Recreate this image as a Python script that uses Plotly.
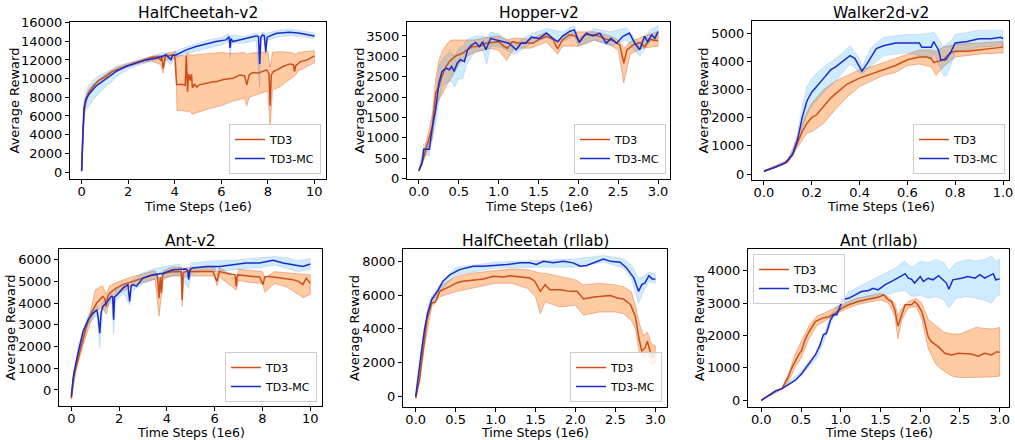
import plotly.graph_objects as go

# ---------------- data (Time Steps in 1e6, Average Reward) ----------------
# HalfCheetah-v2
hc_td3_x = [0, 0.05, 0.12, 0.2, 0.3, 0.5, 0.75, 1.0, 1.3, 1.6, 1.9, 2.2, 2.5, 2.8, 3.05, 3.3, 3.4, 3.45, 3.5, 3.6, 3.7, 3.9, 4.0, 4.08, 4.12, 4.3, 4.45, 4.5, 4.55, 4.6, 4.68, 4.72, 4.76, 4.85, 4.95, 5.05, 5.3, 5.6, 5.8, 6.1, 6.5, 6.8, 7.0, 7.1, 7.2, 7.35, 7.6, 7.8, 7.95, 8.05, 8.1, 8.15, 8.25, 8.4, 8.65, 8.95, 9.1, 9.15, 9.2, 9.4, 9.7, 10.0]
hc_td3_y = [100, 4000, 6800, 7800, 8500, 9200, 9850, 10200, 10750, 11050, 11350, 11600, 11830, 12050, 12300, 12350, 11900, 12400, 11100, 12400, 12450, 12500, 12550, 9400, 9350, 9400, 9300, 12500, 8600, 10500, 9800, 10500, 9000, 9400, 9100, 9340, 9500, 9650, 9700, 9900, 10050, 10400, 10300, 9340, 10400, 10650, 10600, 10760, 10940, 10500, 7090, 10400, 10800, 10940, 11300, 11580, 11500, 10760, 11400, 11830, 12010, 12440]
hc_td3_bx = [0, 0.05, 0.12, 0.2, 0.3, 0.5, 1.0, 1.5, 2.0, 2.5, 3.0, 3.4, 3.5, 3.6, 3.9, 4.05, 4.1, 4.3, 4.5, 4.55, 4.6, 4.75, 5.0, 5.5, 6.0, 6.5, 7.0, 7.1, 7.2, 7.5, 8.0, 8.1, 8.2, 8.5, 9.0, 9.2, 9.3, 9.6, 10.0]
hc_td3_lo = [50, 3500, 6400, 7400, 8200, 9000, 10000, 10800, 11300, 11650, 11900, 11500, 10600, 12000, 12200, 12000, 6600, 6600, 6500, 6400, 6600, 6200, 6400, 6800, 7100, 7600, 7900, 7100, 8000, 8300, 8700, 4600, 8800, 9100, 10000, 10400, 10800, 11200, 11700]
hc_td3_hi = [150, 4500, 7200, 8200, 8800, 9400, 10400, 11200, 11600, 12000, 12400, 12500, 12200, 12700, 12800, 12900, 12400, 12500, 12400, 12800, 12600, 12500, 12600, 12700, 12800, 12700, 12800, 12600, 12700, 12800, 12900, 11200, 12800, 12900, 12800, 12600, 12800, 12900, 13000]
hc_mc_x = [0, 0.03, 0.06, 0.1, 0.17, 0.3, 0.6, 0.9, 1.2, 1.47, 1.9, 2.33, 2.76, 3.2, 3.63, 3.84, 3.9, 4.06, 4.5, 4.92, 5.35, 5.78, 6.2, 6.33, 6.38, 6.42, 6.5, 6.8, 7.22, 7.5, 7.6, 7.65, 7.7, 7.77, 7.85, 7.91, 7.97, 8.03, 8.37, 8.95, 9.38, 9.7, 10.0]
hc_mc_y = [100, 3000, 5950, 6800, 7730, 8270, 9160, 9690, 10230, 10760, 11300, 11650, 12010, 12190, 12540, 12010, 12500, 12540, 13080, 13440, 13720, 13970, 14150, 14500, 13300, 14300, 13970, 14150, 14430, 14580, 14500, 11580, 14400, 14680, 14600, 12900, 14400, 14500, 14860, 14970, 14860, 14750, 14580]
hc_mc_bx = [0, 0.06, 0.17, 0.3, 0.6, 0.9, 1.2, 1.5, 2.0, 2.5, 3.0, 3.5, 3.84, 4.0, 4.5, 5.0, 5.5, 6.0, 6.33, 6.38, 6.45, 7.0, 7.5, 7.65, 7.72, 7.85, 7.91, 7.97, 8.5, 9.0, 9.5, 10.0]
hc_mc_lo = [50, 5000, 6600, 7000, 8100, 8900, 9500, 10200, 11000, 11500, 11900, 12200, 11500, 12200, 12700, 13000, 13300, 13600, 14000, 12200, 13800, 13800, 14100, 9100, 14100, 14200, 12600, 14100, 14500, 14600, 14500, 14300]
hc_mc_hi = [150, 6800, 8500, 9300, 10100, 10500, 10900, 11300, 11700, 12000, 12400, 12800, 12600, 12900, 13400, 13800, 14200, 14400, 14800, 14500, 14700, 14500, 14900, 14600, 14900, 15000, 14600, 14900, 15200, 15300, 15100, 14900]

# Hopper-v2
hop_td3_x = [0, 0.04, 0.1, 0.17, 0.21, 0.25, 0.29, 0.34, 0.38, 0.42, 0.46, 0.5, 0.55, 0.59, 0.63, 0.67, 0.76, 0.84, 0.92, 1.0, 1.07, 1.11, 1.17, 1.26, 1.34, 1.43, 1.51, 1.6, 1.68, 1.74, 1.8, 1.89, 1.97, 2.01, 2.08, 2.18, 2.27, 2.35, 2.43, 2.52, 2.57, 2.61, 2.69, 2.77, 2.83, 2.9, 2.96, 3.0]
hop_td3_y = [200, 390, 800, 1290, 2100, 2250, 2520, 2750, 2870, 2930, 3010, 3040, 3080, 3140, 3200, 3240, 3240, 3320, 3340, 3360, 3240, 3200, 3360, 3320, 3340, 3320, 3420, 3490, 3420, 3180, 3400, 3530, 3490, 3360, 3530, 3530, 3490, 3420, 3390, 3280, 2830, 3160, 3280, 3340, 3240, 3420, 3390, 3390]
hop_td3_bx = [0, 0.1, 0.17, 0.21, 0.25, 0.3, 0.35, 0.4, 0.5, 0.6, 0.7, 0.8, 0.9, 1.0, 1.1, 1.2, 1.4, 1.6, 1.74, 1.8, 2.0, 2.2, 2.4, 2.5, 2.57, 2.65, 2.8, 3.0]
hop_td3_lo = [180, 650, 1000, 1700, 1950, 2100, 2300, 2450, 2800, 3000, 3100, 3150, 3200, 3150, 2900, 3200, 3200, 3350, 3050, 3250, 3250, 3400, 3280, 3150, 2350, 3050, 3200, 3250]
hop_td3_hi = [220, 950, 1600, 2450, 2900, 3150, 3300, 3400, 3400, 3400, 3400, 3450, 3480, 3500, 3400, 3450, 3420, 3600, 3300, 3520, 3600, 3600, 3500, 3400, 3200, 3350, 3480, 3600]
hop_mc_x = [0, 0.04, 0.06, 0.13, 0.17, 0.21, 0.25, 0.29, 0.34, 0.38, 0.41, 0.44, 0.48, 0.52, 0.57, 0.61, 0.65, 0.71, 0.76, 0.8, 0.84, 0.9, 0.97, 1.05, 1.13, 1.22, 1.28, 1.34, 1.41, 1.51, 1.6, 1.68, 1.74, 1.8, 1.89, 1.95, 2.01, 2.1, 2.18, 2.27, 2.35, 2.41, 2.48, 2.56, 2.64, 2.71, 2.77, 2.83, 2.87, 2.92, 2.96, 3.0]
hop_mc_y = [190, 390, 720, 720, 1290, 1690, 2350, 2630, 2710, 2670, 2750, 2630, 2830, 2920, 2870, 3160, 3260, 3340, 3240, 3360, 3160, 3440, 3400, 3360, 3320, 3160, 3320, 3320, 3470, 3440, 3570, 3440, 3360, 3490, 3610, 3650, 3340, 3570, 3500, 3570, 3320, 3440, 3320, 3490, 3570, 3320, 3160, 3490, 3360, 3530, 3440, 3610]
hop_mc_bx = [0, 0.06, 0.13, 0.17, 0.21, 0.25, 0.3, 0.35, 0.4, 0.45, 0.5, 0.55, 0.6, 0.7, 0.8, 0.85, 0.9, 1.0, 1.2, 1.4, 1.6, 1.8, 1.95, 2.0, 2.2, 2.4, 2.6, 2.77, 2.9, 3.0]
hop_mc_lo = [170, 600, 550, 1000, 1300, 1900, 2300, 2350, 2400, 2250, 2450, 2450, 2800, 3100, 3150, 2800, 3250, 3250, 3050, 3300, 3450, 3350, 3500, 3250, 3400, 3250, 3400, 3000, 3350, 3450]
hop_mc_hi = [210, 850, 900, 1550, 2000, 2750, 2950, 3050, 3100, 3000, 3200, 3250, 3400, 3500, 3500, 3450, 3600, 3550, 3300, 3550, 3680, 3600, 3750, 3450, 3680, 3600, 3700, 3300, 3650, 3750]

# Walker2d-v2
wk_td3_x = [0, 0.05, 0.08, 0.1, 0.12, 0.14, 0.16, 0.18, 0.2, 0.22, 0.25, 0.28, 0.3, 0.35, 0.4, 0.45, 0.5, 0.55, 0.6, 0.65, 0.68, 0.7, 0.71, 0.73, 0.75, 0.78, 0.8, 0.85, 0.9, 0.95, 1.0]
wk_td3_y = [100, 250, 350, 450, 700, 1100, 1500, 1800, 2000, 2100, 2400, 2700, 2850, 3200, 3400, 3550, 3700, 3850, 4050, 4150, 4150, 4100, 3950, 4000, 4050, 4300, 4350, 4350, 4400, 4450, 4500]
wk_td3_bx = [0, 0.1, 0.14, 0.18, 0.2, 0.25, 0.3, 0.35, 0.4, 0.45, 0.5, 0.55, 0.6, 0.65, 0.7, 0.72, 0.75, 0.8, 0.9, 1.0]
wk_td3_lo = [80, 400, 950, 1450, 1500, 1800, 2300, 2750, 3100, 3300, 3500, 3600, 3850, 3900, 3800, 3500, 3800, 4150, 4250, 4300]
wk_td3_hi = [120, 500, 1300, 2200, 2500, 3000, 3300, 3500, 3700, 3800, 3950, 4100, 4250, 4400, 4400, 4350, 4500, 4600, 4650, 4700]
wk_mc_x = [0, 0.05, 0.09, 0.12, 0.14, 0.16, 0.18, 0.2, 0.25, 0.28, 0.3, 0.33, 0.36, 0.38, 0.4, 0.41, 0.43, 0.45, 0.47, 0.5, 0.55, 0.6, 0.65, 0.66, 0.7, 0.71, 0.73, 0.74, 0.76, 0.78, 0.8, 0.85, 0.9, 0.95, 0.99, 1.0]
wk_mc_y = [100, 250, 400, 700, 1200, 2000, 2600, 2900, 3400, 3700, 3800, 4000, 4200, 4100, 3800, 3650, 3900, 4200, 4450, 4550, 4650, 4650, 4650, 4500, 4500, 4700, 4400, 4050, 4050, 4300, 4650, 4700, 4800, 4800, 4850, 4800]
wk_mc_bx = [0, 0.09, 0.12, 0.14, 0.16, 0.18, 0.2, 0.25, 0.3, 0.33, 0.36, 0.4, 0.41, 0.45, 0.5, 0.6, 0.65, 0.7, 0.71, 0.73, 0.75, 0.76, 0.78, 0.8, 0.9, 1.0]
wk_mc_lo = [80, 370, 600, 1000, 1600, 2100, 2400, 2900, 3300, 3600, 3900, 3600, 3550, 3850, 4200, 4300, 4200, 4100, 4300, 3900, 3500, 3450, 3800, 4300, 4500, 4550]
wk_mc_hi = [120, 430, 800, 1400, 2400, 3100, 3400, 3800, 4100, 4300, 4550, 4100, 3800, 4500, 4850, 4950, 4950, 5000, 5050, 4800, 4500, 4600, 4700, 4950, 5100, 5100]

# Ant-v2
ant_td3_x = [0, 0.07, 0.2, 0.42, 0.63, 0.84, 1.05, 1.19, 1.32, 1.4, 1.46, 1.52, 1.6, 1.88, 2.16, 2.58, 3.0, 3.42, 3.6, 3.67, 3.72, 3.77, 3.82, 3.9, 4.25, 4.6, 4.64, 4.68, 4.81, 5.37, 5.93, 6.09, 6.2, 6.49, 6.85, 6.9, 6.95, 7.32, 7.88, 8.02, 8.1, 8.3, 8.86, 9.27, 9.5, 9.69, 9.83, 10.0]
ant_td3_y = [-380, 460, 1080, 2000, 2920, 3540, 4000, 4150, 4310, 4200, 3850, 4300, 4460, 4690, 4850, 5000, 5150, 5310, 5300, 4230, 5200, 4460, 5300, 5380, 5460, 5450, 4150, 5400, 5460, 5460, 5460, 5000, 5450, 5380, 5300, 4770, 5300, 5260, 5200, 4850, 5220, 5230, 5150, 5080, 5000, 4850, 5150, 4920]
ant_td3_bx = [0, 0.2, 0.5, 0.8, 1.0, 1.3, 1.46, 1.6, 2.0, 2.5, 3.0, 3.5, 3.67, 3.75, 3.85, 4.2, 4.6, 4.64, 4.7, 5.0, 6.0, 6.09, 6.2, 6.9, 7.0, 7.5, 8.0, 8.1, 8.5, 9.0, 9.5, 9.7, 10.0]
ant_td3_lo = [-450, 900, 2100, 3100, 3600, 3800, 3500, 4100, 4450, 4750, 4950, 5100, 3400, 4000, 5100, 5250, 5250, 3850, 5200, 5250, 5250, 4800, 5200, 4600, 5050, 4950, 4900, 4500, 4900, 4750, 4400, 4250, 4400]
ant_td3_hi = [-300, 1300, 2600, 3600, 4600, 4800, 4400, 4800, 5000, 5200, 5350, 5500, 5000, 4900, 5500, 5650, 5650, 4500, 5600, 5650, 5650, 5300, 5650, 5100, 5550, 5500, 5450, 5150, 5450, 5400, 5350, 5300, 5300]
ant_mc_x = [0, 0.1, 0.28, 0.49, 0.7, 0.91, 1.07, 1.13, 1.19, 1.25, 1.32, 1.46, 1.67, 1.73, 1.77, 1.81, 1.88, 2.16, 2.37, 2.44, 2.5, 2.58, 2.72, 3.0, 3.42, 3.84, 4.25, 4.81, 4.87, 4.91, 4.97, 5.09, 5.65, 6.21, 6.76, 7.32, 7.88, 8.44, 8.86, 9.27, 9.69, 10.0]
ant_mc_y = [-300, 770, 1690, 2690, 3230, 3540, 3690, 3300, 2620, 3600, 3850, 4000, 4310, 4300, 3230, 4300, 4340, 4690, 4850, 4080, 4800, 4850, 4770, 5150, 5310, 5380, 5540, 5570, 5500, 5080, 5550, 5620, 5690, 5690, 5770, 5850, 5850, 5970, 5850, 5770, 5690, 5800]
ant_mc_bx = [0, 0.28, 0.7, 1.07, 1.19, 1.3, 1.5, 1.7, 1.77, 1.85, 2.2, 2.44, 2.55, 3.0, 3.5, 4.0, 4.5, 4.91, 5.0, 5.5, 6.0, 7.0, 8.0, 8.5, 9.0, 9.5, 10.0]
ant_mc_lo = [-400, 1400, 3000, 3450, 1950, 3600, 3800, 4050, 2600, 4100, 4450, 3900, 4550, 4900, 5100, 5200, 5300, 4700, 5350, 5450, 5450, 5550, 5650, 5750, 5600, 5450, 5550]
ant_mc_hi = [-200, 2000, 3450, 3950, 3200, 4100, 4250, 4550, 3800, 4600, 4950, 4300, 5050, 5400, 5600, 5700, 5800, 5400, 5850, 5900, 5950, 6000, 6100, 6150, 6100, 5950, 6050]

# HalfCheetah (rllab)
hcr_td3_x = [0, 0.05, 0.1, 0.14, 0.2, 0.24, 0.26, 0.3, 0.43, 0.51, 0.59, 0.72, 0.85, 0.97, 1.1, 1.18, 1.31, 1.43, 1.49, 1.56, 1.62, 1.68, 1.81, 1.93, 2.02, 2.1, 2.23, 2.35, 2.44, 2.52, 2.6, 2.69, 2.75, 2.79, 2.83, 2.87, 2.9, 2.94, 2.96, 3.0]
hcr_td3_y = [-100, 990, 2960, 4540, 5530, 5570, 5730, 6220, 6520, 6720, 6820, 6880, 6960, 7110, 7070, 7150, 7070, 7010, 6820, 6220, 6620, 6320, 6320, 6220, 6220, 5770, 5890, 5930, 5970, 5830, 5770, 5430, 4740, 3560, 2670, 2870, 3260, 2570, 2370, 2570]
hcr_td3_bx = [0, 0.1, 0.2, 0.3, 0.5, 0.7, 1.0, 1.2, 1.4, 1.5, 1.56, 1.62, 1.8, 2.0, 2.1, 2.3, 2.5, 2.6, 2.7, 2.75, 2.8, 2.85, 2.9, 2.95, 3.0]
hcr_td3_lo = [-150, 2700, 5300, 5900, 6200, 6400, 6700, 6700, 6400, 5900, 4900, 5600, 5300, 5400, 4800, 5000, 5000, 4900, 4500, 4000, 2600, 2300, 2600, 1900, 2000]
hcr_td3_hi = [-50, 3200, 5800, 6500, 7100, 7300, 7450, 7550, 7500, 7400, 7300, 7300, 7100, 6900, 6600, 6700, 6600, 6500, 6200, 5400, 4300, 3600, 3800, 3100, 3000]
hcr_mc_x = [0, 0.03, 0.07, 0.11, 0.15, 0.2, 0.24, 0.28, 0.34, 0.43, 0.55, 0.72, 0.85, 0.97, 1.14, 1.31, 1.43, 1.51, 1.6, 1.72, 1.85, 1.97, 2.06, 2.14, 2.27, 2.35, 2.44, 2.56, 2.64, 2.73, 2.79, 2.83, 2.87, 2.92, 2.96, 3.0]
hcr_mc_y = [0, 990, 2570, 3950, 4940, 5730, 5970, 6280, 6820, 7210, 7510, 7710, 7710, 7750, 7810, 7910, 7910, 7810, 8000, 7910, 8000, 7910, 7710, 7750, 8000, 8140, 8000, 7950, 7610, 7020, 6220, 6620, 6720, 7150, 6960, 6960]
hcr_mc_bx = [0, 0.07, 0.15, 0.2, 0.3, 0.5, 1.0, 1.5, 2.0, 2.35, 2.6, 2.7, 2.79, 2.85, 2.92, 3.0]
hcr_mc_lo = [-50, 2300, 4700, 5500, 6200, 7200, 7600, 7650, 7650, 7950, 7600, 7000, 5500, 6200, 6800, 6700]
hcr_mc_hi = [50, 2900, 5300, 5950, 6600, 7650, 7950, 8050, 8150, 8350, 8150, 7800, 7000, 7100, 7350, 7250]

# Ant (rllab)
ar_td3_x = [0, 0.09, 0.18, 0.26, 0.3, 0.34, 0.38, 0.43, 0.47, 0.51, 0.55, 0.59, 0.64, 0.68, 0.76, 0.85, 0.93, 1.01, 1.1, 1.22, 1.35, 1.47, 1.54, 1.6, 1.64, 1.68, 1.72, 1.77, 1.81, 1.89, 1.93, 1.97, 2.02, 2.06, 2.1, 2.14, 2.23, 2.31, 2.39, 2.48, 2.56, 2.64, 2.73, 2.81, 2.9, 2.96, 3.0]
ar_td3_y = [0, 155, 290, 360, 520, 720, 980, 1240, 1400, 1550, 1860, 2070, 2270, 2430, 2530, 2580, 2690, 2840, 2950, 3050, 3120, 3180, 3260, 3100, 3050, 2790, 2290, 2690, 2950, 2950, 3050, 2950, 2740, 2380, 1960, 1810, 1650, 1450, 1400, 1450, 1450, 1430, 1360, 1450, 1400, 1500, 1480]
ar_td3_bx = [0, 0.26, 0.35, 0.43, 0.5, 0.6, 0.7, 0.8, 1.0, 1.2, 1.5, 1.6, 1.68, 1.72, 1.77, 1.85, 1.95, 2.02, 2.1, 2.2, 2.3, 2.4, 2.5, 2.7, 2.9, 3.0]
ar_td3_lo = [0, 340, 600, 1050, 1300, 1900, 2300, 2450, 2750, 2950, 3100, 3000, 2600, 1900, 2500, 2850, 2900, 2500, 1600, 1100, 900, 750, 700, 700, 720, 750]
ar_td3_hi = [0, 380, 850, 1450, 1800, 2300, 2600, 2700, 2950, 3150, 3300, 3200, 3000, 2600, 2850, 3050, 3150, 3000, 2500, 2300, 2100, 2050, 2050, 2250, 2200, 2250]
ar_mc_x = [0, 0.18, 0.26, 0.34, 0.43, 0.51, 0.59, 0.68, 0.74, 0.78, 0.82, 0.87, 0.91, 0.95, 0.99, 1.03, 1.1, 1.18, 1.26, 1.35, 1.41, 1.47, 1.56, 1.64, 1.72, 1.77, 1.81, 1.85, 1.89, 1.93, 2.0, 2.04, 2.1, 2.16, 2.23, 2.29, 2.33, 2.36, 2.41, 2.52, 2.6, 2.69, 2.75, 2.81, 2.87, 2.92, 2.95, 3.0]
ar_mc_y = [0, 290, 360, 470, 620, 830, 1090, 1400, 1710, 2020, 2070, 2480, 2640, 2640, 2890, 3120, 3150, 3260, 3360, 3390, 3460, 3410, 3570, 3670, 3770, 3850, 3910, 3770, 3740, 3620, 3820, 3670, 3770, 3720, 3850, 3720, 3620, 3430, 3720, 3770, 3820, 3770, 3880, 3770, 3850, 3910, 3720, 3750]
ar_mc_bx = [0, 0.26, 0.5, 0.7, 0.9, 1.0, 1.1, 1.3, 1.5, 1.7, 1.8, 1.9, 2.0, 2.1, 2.2, 2.3, 2.36, 2.45, 2.6, 2.7, 2.8, 2.9, 2.95, 3.0]
ar_mc_lo = [0, 340, 750, 1300, 2500, 2800, 2950, 3100, 3200, 3350, 3400, 3200, 3250, 3150, 3200, 3100, 2850, 3150, 3200, 3150, 3100, 3000, 3200, 3250]
ar_mc_hi = [0, 380, 900, 1500, 2750, 3000, 3350, 3600, 3850, 4100, 4300, 4100, 4300, 4250, 4350, 4250, 4000, 4250, 4350, 4300, 4350, 4450, 4300, 4350]

titles = ["HalfCheetah-v2", "Hopper-v2", "Walker2d-v2", "Ant-v2", "HalfCheetah (rllab)", "Ant (rllab)"]
series_names = ["TD3", "TD3-MC"]
x_label = "Time Steps (1e6)"
y_label = "Average Reward"

x_ticks_10 = [0, 2, 4, 6, 8, 10]
x_ticks_3 = [0, 0.5, 1.0, 1.5, 2.0, 2.5, 3.0]
x_ticks_1 = [0, 0.2, 0.4, 0.6, 0.8, 1.0]
y_ticks_hc = [0, 2000, 4000, 6000, 8000, 10000, 12000, 14000, 16000]
y_ticks_hop = [0, 500, 1000, 1500, 2000, 2500, 3000, 3500]
y_ticks_wk = [0, 1000, 2000, 3000, 4000, 5000]
y_ticks_ant = [0, 1000, 2000, 3000, 4000, 5000, 6000]
y_ticks_hcr = [0, 2000, 4000, 6000, 8000]
y_ticks_ar = [0, 1000, 2000, 3000, 4000]

# ---------------- style / layout ----------------
W, H = 1015, 440
FONT = "DejaVu Sans"
TD3_LINE = "#CC4F1B"
TD3_FILL = "rgba(255,152,72,0.5)"
TD3_EDGE = "rgba(204,79,27,0.45)"
MC_LINE = "#1B2ACC"
MC_FILL = "rgba(8,159,255,0.2)"
MC_EDGE = "rgba(27,42,204,0.15)"


def fx(px):
    return px / W


def fy(py):
    return 1 - py / H


panels = [
    dict(box=(70, 326, 22, 179), xr=[-0.5, 10.5], yr=[-750, 16070], xt=x_ticks_10, xf="", yt=y_ticks_hc,
         data=((hc_td3_x, hc_td3_y, hc_td3_bx, hc_td3_lo, hc_td3_hi), (hc_mc_x, hc_mc_y, hc_mc_bx, hc_mc_lo, hc_mc_hi)),
         leg=dict(x=321, y=174, xa="right", ya="bottom"), ytx=14),
    dict(box=(407, 670, 22, 179), xr=[-0.15, 3.15], yr=[-10, 3842], xt=x_ticks_3, xf=".1f", yt=y_ticks_hop,
         data=((hop_td3_x, hop_td3_y, hop_td3_bx, hop_td3_lo, hop_td3_hi), (hop_mc_x, hop_mc_y, hop_mc_bx, hop_mc_lo, hop_mc_hi)),
         leg=dict(x=666, y=174, xa="right", ya="bottom"), ytx=359),
    dict(box=(752, 1009, 21, 180), xr=[-0.05, 1.025], yr=[-213, 5427], xt=x_ticks_1, xf=".1f", yt=y_ticks_wk,
         data=((wk_td3_x, wk_td3_y, wk_td3_bx, wk_td3_lo, wk_td3_hi), (wk_mc_x, wk_mc_y, wk_mc_bx, wk_mc_lo, wk_mc_hi)),
         leg=dict(x=1005, y=174, xa="right", ya="bottom"), ytx=703),
    dict(box=(59, 322, 249, 406), xr=[-0.516, 10.49], yr=[-738, 6492], xt=x_ticks_10, xf="", yt=y_ticks_ant,
         data=((ant_td3_x, ant_td3_y, ant_td3_bx, ant_td3_lo, ant_td3_hi), (ant_mc_x, ant_mc_y, ant_mc_bx, ant_mc_lo, ant_mc_hi)),
         leg=dict(x=317, y=402, xa="right", ya="bottom"), ytx=10),
    dict(box=(403, 667, 249, 407), xr=[-0.159, 3.146], yr=[-632, 8731], xt=x_ticks_3, xf=".1f", yt=y_ticks_hcr,
         data=((hcr_td3_x, hcr_td3_y, hcr_td3_bx, hcr_td3_lo, hcr_td3_hi), (hcr_mc_x, hcr_mc_y, hcr_mc_bx, hcr_mc_lo, hcr_mc_hi)),
         leg=dict(x=662, y=402, xa="right", ya="bottom"), ytx=354),
    dict(box=(748, 1009, 249, 407), xr=[-0.167, 3.117], yr=[-207, 4672], xt=x_ticks_3, xf=".1f", yt=y_ticks_ar,
         data=((ar_td3_x, ar_td3_y, ar_td3_bx, ar_td3_lo, ar_td3_hi), (ar_mc_x, ar_mc_y, ar_mc_bx, ar_mc_lo, ar_mc_hi)),
         leg=dict(x=753, y=254, xa="left", ya="top"), ytx=699),
]

fig = go.Figure()
layout = dict(template="none", width=W, height=H,
              margin=dict(l=0, r=0, t=0, b=0, pad=0, autoexpand=False),
              paper_bgcolor="white", plot_bgcolor="white",
              font=dict(family=FONT, size=13, color="black"), annotations=[])

lines = [(TD3_LINE, TD3_FILL, TD3_EDGE), (MC_LINE, MC_FILL, MC_EDGE)]

for i, p in enumerate(panels):
    n = i + 1
    xa = "x" if n == 1 else f"x{n}"
    ya = "y" if n == 1 else f"y{n}"
    lg = "legend" if n == 1 else f"legend{n}"
    x0, x1, y0, y1 = p["box"]
    for (xs, ys, bx, lo, hi), (lc, fc, ec) in zip(p["data"], lines):
        fig.add_trace(go.Scatter(x=list(bx) + list(bx)[::-1], y=list(hi) + list(lo)[::-1],
                                 fill="toself", fillcolor=fc, mode="lines",
                                 line=dict(color=ec, width=0.8), hoverinfo="skip",
                                 showlegend=False, xaxis=xa, yaxis=ya))
    for (xs, ys, bx, lo, hi), (lc, fc, ec), nm in zip(p["data"], lines, series_names):
        fig.add_trace(go.Scatter(x=xs, y=ys, mode="lines", name=nm,
                                 line=dict(color=lc, width=1.5),
                                 legend=lg, showlegend=True, xaxis=xa, yaxis=ya))
    axis_common = dict(showline=True, mirror=True, linecolor="black", linewidth=1,
                       ticks="outside", ticklen=4, tickwidth=1, tickcolor="black",
                       showgrid=False, zeroline=False, automargin=False,
                       tickfont=dict(size=13, family=FONT, color="black"))
    xkey = "xaxis" if n == 1 else f"xaxis{n}"
    ykey = "yaxis" if n == 1 else f"yaxis{n}"
    layout[xkey] = dict(domain=[fx(x0), fx(x1)], anchor=ya, range=p["xr"], tickvals=p["xt"],
                        tickformat=p["xf"], ticklabelstandoff=-4, **axis_common)
    layout[ykey] = dict(domain=[fy(y1), fy(y0)], anchor=xa, range=p["yr"], tickvals=p["yt"],
                        tickformat="d", **axis_common)
    L = p["leg"]
    layout[lg] = dict(x=fx(L["x"]), y=fy(L["y"]), xanchor=L["xa"], yanchor=L["ya"],
                      xref="paper", yref="paper",
                      bgcolor="rgba(255,255,255,0.8)", bordercolor="#cccccc", borderwidth=1,
                      font=dict(family=FONT, size=11, color="black"), itemwidth=30,
                      tracegroupgap=0)
    cx = (x0 + x1) / 2
    cy = (y0 + y1) / 2
    title_y = 13 if y0 < 100 else 241
    xt_y = 206.5 if y0 < 100 else 432.5
    layout["annotations"] += [
        dict(text=titles[i], x=fx(cx), y=fy(title_y), xref="paper", yref="paper",
             xanchor="center", yanchor="middle", showarrow=False, font=dict(size=15.5, family=FONT)),
        dict(text=x_label, x=fx(cx), y=fy(xt_y), xref="paper", yref="paper",
             xanchor="center", yanchor="middle", showarrow=False, borderpad=0,
             font=dict(size=12.5, family=FONT)),
        dict(text=y_label, x=fx(p["ytx"]), y=fy(cy), xref="paper", yref="paper",
             xanchor="center", yanchor="middle", textangle=-90, showarrow=False,
             font=dict(size=13, family=FONT)),
    ]

fig.update_layout(**layout)
# remove the page's default 8px body margin so the figure sits at the window's top-left corner
fig.write_html("out.html", config={"displayModeBar": False},
               post_script="document.body.style.margin='0px';document.body.style.overflow='hidden';")
